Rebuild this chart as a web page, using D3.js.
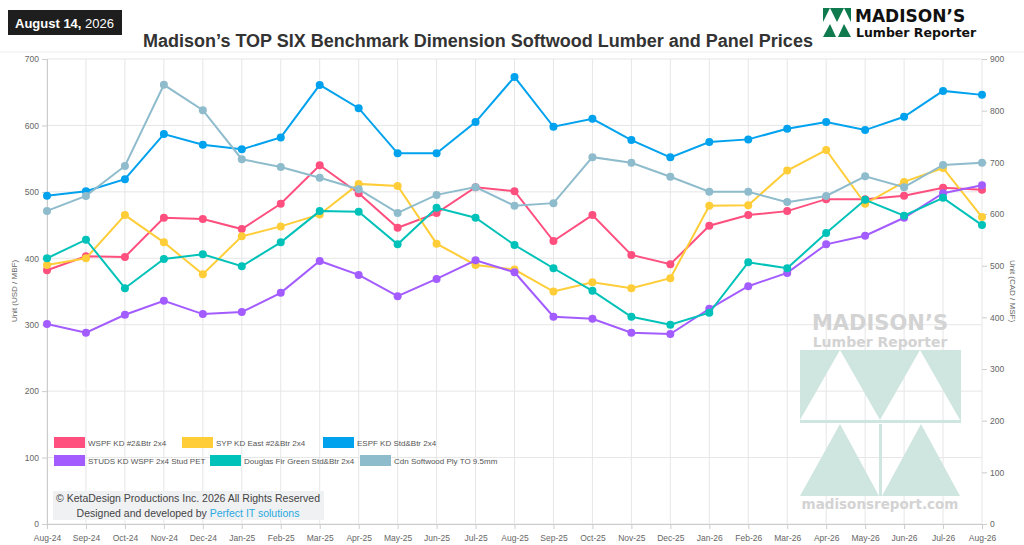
<!DOCTYPE html>
<html><head><meta charset="utf-8">
<script src="https://cdn.jsdelivr.net/npm/d3@7"></script>
<style>body{margin:0;background:#fff;font-family:"Liberation Sans",Arial,sans-serif}</style>
</head><body><svg width="1024" height="545"></svg>
<script>
const months = ['Aug-24','Sep-24','Oct-24','Nov-24','Dec-24','Jan-25','Feb-25','Mar-25','Apr-25','May-25','Jun-25','Jul-25','Aug-25','Sep-25','Oct-25','Nov-25','Dec-25','Jan-26','Feb-26','Mar-26','Apr-26','May-26','Jun-26','Jul-26','Aug-26'];
const wspf = [382,403,402,461,459,444,482,540,498,446,468,507,501,426,465,405,391,449,465,471,489,489,494,506,503];
const syp = [390,400,465,424,376,433,448,466,512,509,422,390,383,350,364,355,370,479,480,532,563,482,515,536,462];
const espf = [494,501,519,587,571,564,582,661,626,558,558,605,673,598,610,578,552,575,579,595,605,593,613,652,646];
const studs = [301,288,315,336,316,319,348,396,375,343,369,397,379,312,309,288,286,324,358,378,421,434,461,498,510];
const fir = [400,428,355,399,406,388,424,471,470,421,476,461,420,385,351,312,300,318,394,385,438,488,464,491,450];
const ply = [606,635,693,850,801,706,691,670,648,602,637,652,616,621,710,699,672,643,643,623,635,673,652,695,699];
const leftTicks = [0,100,200,300,400,500,600,700];
const rightTicks = [0,100,200,300,400,500,600,700,800,900];

const series = [
  {name:'WSPF KD #2&Btr 2x4', values:wspf, color:'#ff4f7e', axis:'l'},
  {name:'SYP KD East #2&Btr 2x4', values:syp, color:'#ffcd38', axis:'l'},
  {name:'ESPF KD Std&Btr 2x4', values:espf, color:'#00a2ee', axis:'l'},
  {name:'STUDS KD WSPF 2x4 Stud PET', values:studs, color:'#a35cff', axis:'l'},
  {name:'Douglas Fir Green Std&Btr 2x4', values:fir, color:'#00c2b8', axis:'l'},
  {name:'Cdn Softwood Ply TO 9.5mm', values:ply, color:'#8fbccc', axis:'r'}
];

const svg = d3.select('svg');
const x = d3.scalePoint().domain(months).range([47,982]);
const yl = d3.scaleLinear().domain([0,700]).range([524,59]);
const yr = d3.scaleLinear().domain([0,900]).range([524,59]);

// grid
const grid = svg.append('g').attr('stroke','#e6e6e6');
grid.selectAll('.v').data(months).join('line')
  .attr('x1',d=>x(d)).attr('x2',d=>x(d)).attr('y1',59).attr('y2',524);
grid.selectAll('.h').data(leftTicks).join('line')
  .attr('x1',47).attr('x2',982).attr('y1',d=>yl(d)).attr('y2',d=>yl(d));

// watermark
const wm = svg.append('g').attr('fill','#cfe5df');
wm.append('text').attr('x',880).attr('y',330).attr('text-anchor','middle')
  .attr('font-size',21).attr('font-weight','900').attr('fill','#d3d3d3')
  .attr('font-family','"DejaVu Sans",sans-serif').text('MADISON\u2019S');
wm.append('text').attr('x',880).attr('y',347).attr('text-anchor','middle')
  .attr('font-size',14).attr('font-weight','900').attr('fill','#d3d3d3')
  .attr('font-family','"DejaVu Sans",sans-serif').text('Lumber Reporter');
wm.append('path').attr('d','M800,350H961V423H800Z M800,420L840,350L880,420L920,350L960,420Z').attr('fill-rule','evenodd');
wm.append('path').attr('d','M800,496L840,424L879,496Z M882,496L921,424L960,496Z M879,424H882V496H879Z');
wm.append('text').attr('x',880).attr('y',509).attr('text-anchor','middle')
  .attr('font-size',13.5).attr('font-weight','900').attr('fill','#d3d3d3')
  .attr('font-family','"DejaVu Sans",sans-serif').text('madisonsreport.com');

// axes
const axL = svg.append('g').attr('transform','translate(47,0)')
  .call(d3.axisLeft(yl).tickValues(leftTicks).tickSize(5));
const axR = svg.append('g').attr('transform','translate(982,0)')
  .call(d3.axisRight(yr).tickValues(rightTicks).tickSize(5));
const axB = svg.append('g').attr('transform','translate(0,524)')
  .call(d3.axisBottom(x).tickSize(5));
[axL,axR,axB].forEach(a=>{
  a.select('.domain').attr('stroke','#ccc');
  a.selectAll('line').attr('stroke','#ccc');
  a.selectAll('text').attr('fill','#666').attr('font-size',8.5).attr('font-family','"Liberation Sans",Arial');
});
axR.select('.domain').remove();
axB.selectAll('text').attr('dy','1.1em');
svg.append('text').attr('transform','translate(17,291) rotate(-90)').attr('text-anchor','middle')
  .attr('font-size',8).attr('fill','#666').text('Unit (USD / MBF)');
svg.append('text').attr('transform','translate(1010,291) rotate(90)').attr('text-anchor','middle')
  .attr('font-size',8).attr('fill','#666').text('Unit (CAD / MSF)');

// lines
series.forEach(s=>{
  const y = s.axis==='l'?yl:yr;
  svg.append('path').datum(s.values)
    .attr('fill','none').attr('stroke',s.color).attr('stroke-width',2)
    .attr('d',d3.line().x((d,i)=>x(months[i])).y(d=>y(d)));
  svg.append('g').selectAll('circle').data(s.values).join('circle')
    .attr('cx',(d,i)=>x(months[i])).attr('cy',d=>y(d)).attr('r',4).attr('fill',s.color);
});

// legend
const lg = svg.append('g');
const legX = [54,182,323,54,210,360];
series.forEach((s,i)=>{
  const lx=legX[i], ly=437+Math.floor(i/3)*18;
  lg.append('rect').attr('x',lx).attr('y',ly).attr('width',31).attr('height',11).attr('fill',s.color);
  lg.append('text').attr('x',lx+34).attr('y',ly+9).attr('font-size',8).attr('fill','#555').text(s.name);
});

// copyright box
svg.append('rect').attr('x',53).attr('y',491).attr('width',271).attr('height',29).attr('fill','#f0f1f3');
svg.append('text').attr('x',188).attr('y',502).attr('text-anchor','middle').attr('font-size',10.5).attr('fill','#444')
  .text('\u00a9 KetaDesign Productions Inc. 2026 All Rights Reserved');
const t2 = svg.append('text').attr('x',188).attr('y',517).attr('text-anchor','middle').attr('font-size',10.5).attr('fill','#444');
t2.append('tspan').text('Designed and developed by ');
t2.append('tspan').attr('fill','#29a9e0').text('Perfect IT solutions');

// header
svg.append('rect').attr('x',8).attr('y',10).attr('width',114).attr('height',25).attr('fill','#1e1e1e');
const dt = svg.append('text').attr('x',15).attr('y',28).attr('font-size',13).attr('fill','#fff');
dt.append('tspan').attr('font-weight','bold').text('August 14,');
dt.append('tspan').text(' 2026');
svg.append('text').attr('x',478).attr('y',47).attr('text-anchor','middle').attr('font-size',18)
  .attr('font-weight','bold').attr('fill','#333').text('Madison\u2019s TOP SIX Benchmark Dimension Softwood Lumber and Panel Prices');
const logo = svg.append('g').attr('fill','#0e7a4e');
logo.append('path').attr('d','M823,8H851V22H823Z M823,22L830,8L837,22L844,8L851,22Z').attr('fill-rule','evenodd');
logo.append('path').attr('d','M823,37L830,24L836,37Z M838,37L844,24L851,37Z');
logo.append('text').attr('x',855).attr('y',22).attr('font-size',17).attr('font-weight','900').attr('fill','#111')
  .attr('font-family','"DejaVu Sans",sans-serif').text('MADISON\u2019S');
logo.append('text').attr('x',856).attr('y',37).attr('font-size',12.5).attr('font-weight','bold').attr('fill','#111')
  .attr('font-family','"DejaVu Sans",sans-serif').text('Lumber Reporter');
svg.append('line').attr('x1',0).attr('x2',1024).attr('y1',52).attr('y2',52).attr('stroke','#eee');
</script></body></html>
